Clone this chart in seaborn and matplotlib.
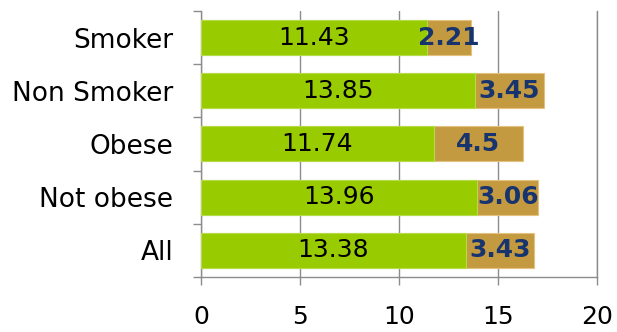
import matplotlib
matplotlib.use("Agg")
import matplotlib.pyplot as plt
import seaborn as sns
import pandas as pd
import numpy as np

# Groups and the two stacked components
groups = ["Smoker", "Non Smoker", "Obese", "Not obese", "All"]
first_part = [11.43, 13.85, 11.74, 13.96, 13.38]
second_part = [2.21, 3.45, 4.5, 3.06, 3.43]
x_ticks = [0, 5, 10, 15, 20]

GREEN = "#99CC00"
TAN = "#C49A40"
NAVY = "#17346E"
GRID = "#8C8C8C"

df = pd.DataFrame({
    "group": groups,
    "first": first_part,
    "second": second_part,
})
df["total"] = df["first"] + df["second"]

sns.set_theme(style="white")
plt.rcParams["font.family"] = ["DejaVu Sans"]

fig = plt.figure(figsize=(6.17, 3.32), dpi=100)
ax = fig.add_axes([0.326, 0.166, 0.9676 - 0.326, 0.967 - 0.166])

# Stacked bars: full total in tan underneath, first component in green on top
sns.barplot(data=df, x="total", y="group", order=groups, orient="h",
            color=TAN, saturation=1, width=0.66, ax=ax,
            edgecolor="#E2C27E", linewidth=0.8, zorder=2)
sns.barplot(data=df, x="first", y="group", order=groups, orient="h",
            color=GREEN, saturation=1, width=0.66, ax=ax,
            edgecolor="#B5DA4A", linewidth=0.8, zorder=3)

# Value labels
for i, (a, b) in enumerate(zip(first_part, second_part)):
    ax.text(a / 2, i, f"{a:g}", ha="center", va="center",
            fontsize=18, color="black", zorder=5)
    ax.text(a + b / 2, i, f"{b:g}", ha="center", va="center",
            fontsize=18, color=NAVY, fontweight="bold", zorder=5)

ax.set_xlim(0, 20)
ax.set_ylim(len(groups) - 0.5, -0.5)
ax.set_xticks(x_ticks)
ax.set_xticklabels([str(t) for t in x_ticks])
ax.set_xlabel("")
ax.set_ylabel("")

# Vertical gridlines behind the bars
ax.grid(axis="x", color=GRID, linewidth=1.0, zorder=0)
ax.set_axisbelow(True)

ax.spines["top"].set_visible(False)
for side in ["left", "bottom", "right"]:
    ax.spines[side].set_color(GRID)
    ax.spines[side].set_linewidth(1.0)

# Category separators as small outward ticks on the left axis
ax.set_yticks(np.arange(len(groups) + 1) - 0.5, minor=True)
ax.tick_params(axis="y", which="major", length=0, pad=20, labelsize=19,
               labelcolor="black")
ax.tick_params(axis="y", which="minor", length=6, width=1.0, color=GRID,
               left=True, right=False, direction="out")
ax.tick_params(axis="x", which="major", length=6, width=1.0, color=GRID,
               bottom=True, direction="out", pad=14, labelsize=18,
               labelcolor="black")

fig.savefig("out.png", dpi=100)
